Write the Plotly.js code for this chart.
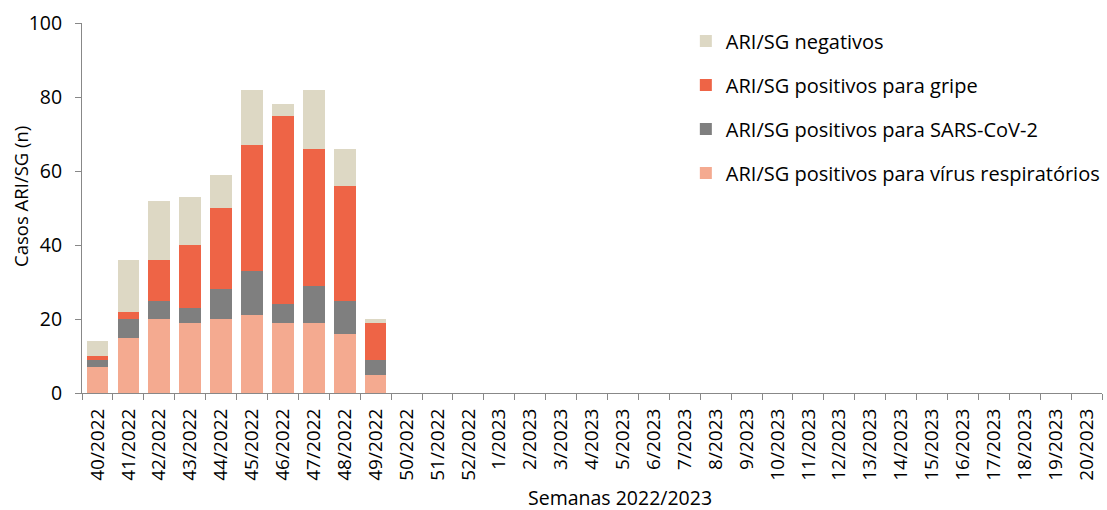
<!DOCTYPE html>
<html><head><meta charset="utf-8">
<script src="https://cdn.plot.ly/plotly-3.0.1.min.js"></script>
<style>html,body{margin:0;padding:0;background:#fff}#chart{width:1107px;height:510px}</style>
</head><body><div id="chart"></div>
<script>
var weeks = ["40/2022","41/2022","42/2022","43/2022","44/2022","45/2022","46/2022","47/2022","48/2022","49/2022","50/2022","51/2022","52/2022",
  "1/2023","2/2023","3/2023","4/2023","5/2023","6/2023","7/2023","8/2023","9/2023","10/2023","11/2023","12/2023","13/2023","14/2023","15/2023","16/2023","17/2023","18/2023","19/2023","20/2023"];
var virus  = [7,15,20,19,20,21,19,19,16,5];
var sars   = [2,5,5,4,8,12,5,10,9,4];
var gripe  = [1,2,11,17,22,34,51,37,31,10];
var negat  = [4,14,16,13,9,15,3,16,10,1];
var names = ["ARI/SG positivos para vírus respiratórios","ARI/SG positivos para SARS-CoV-2","ARI/SG positivos para gripe","ARI/SG negativos"];
var colors = ["#F4AA90","#7F7F7F","#EE6446","#DDD8C4"];
var series = [virus, sars, gripe, negat];
var font = "'Open Sans', sans-serif";
var traces = series.map(function(v,i){
  return {type:"bar", x: weeks.slice(0, v.length), y: v, name: names[i], legendgroup: "g"+i, legendrank: 10 - i,
    marker:{color: colors[i], line:{width:0}}, hoverinfo:"x+y+name"};
});
traces.unshift({type:"bar", x: weeks, y: weeks.map(function(){return 0;}), showlegend:false, hoverinfo:"skip", marker:{color:"rgba(0,0,0,0)"}});
var layout = {
  width:1107, height:510, barmode:"stack", bargap:0.3,
  margin:{l:82, r:2, t:23, b:117},
  paper_bgcolor:"#fff", plot_bgcolor:"#fff",
  font:{family:font, size:18, color:"#000"},
  showlegend:true,
  legend:{x:0.592, y:1.004, xanchor:"left", yanchor:"top", traceorder:"grouped", tracegroupgap:15,
    font:{family:font, size:20, color:"#000"}, bgcolor:"rgba(0,0,0,0)", itemwidth:30},
  xaxis:{type:"category", categoryorder:"array", categoryarray:weeks, tickangle:-90,
    showline:true, linecolor:"#888", linewidth:1, ticks:"outside", tickson:"boundaries", ticklen:6, tickcolor:"#888",
    ticklabelstandoff:7, showgrid:false, tickfont:{family:font, size:19}},
  yaxis:{range:[0,100], dtick:20, showline:true, linecolor:"#888", linewidth:1, ticks:"outside", ticklen:6, tickcolor:"#888",
    ticklabelstandoff:9, showgrid:false, zeroline:false, tickfont:{family:font, size:19.5}},
  annotations:[
    {text:"Semanas 2022/2023", xref:"paper", yref:"paper", x:0.527, y:0, yshift:-104, xanchor:"center", yanchor:"middle", showarrow:false, borderpad:0, font:{family:font, size:19.5}},
    {text:"Casos ARI/SG (n)", xref:"paper", yref:"paper", x:0, xshift:-61, y:0.53, xanchor:"center", yanchor:"middle", textangle:-90, showarrow:false, font:{family:font, size:18.5}}
  ]
};
Plotly.newPlot("chart", traces, layout, {displayModeBar:false, staticPlot:true});
</script></body></html>
